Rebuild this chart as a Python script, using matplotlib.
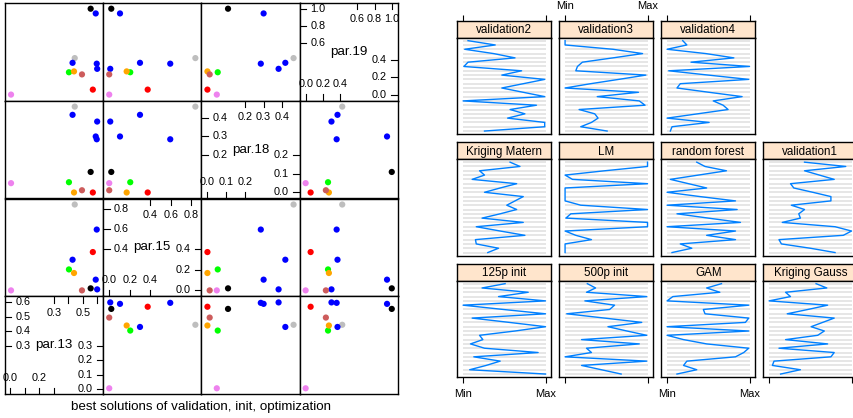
import numpy as np
import matplotlib.pyplot as plt

plt.rcParams['font.family'] = ['Liberation Sans', 'DejaVu Sans']

# --- DATA: scatterplot matrix (one entry per best solution) ---
VAR_NAMES = ['par.13', 'par.15', 'par.18', 'par.19']
par13 = [0.555, 0.590, 0.445, 0.430, 0.597, 0.600, 0.405, 0.440, 0.495, 0.570, 0.005]
par15 = [0.020, 0.105, 0.840, 0.300, 0.595, 0.010, 0.205, 0.170, 0.000, 0.375, 0.000]
par18 = [0.110, 0.300, 0.460, 0.416, 0.285, 0.380, 0.055, 0.000, 0.012, 0.000, 0.050]
par19 = [1.000, 0.945, 0.425, 0.370, 0.360, 0.300, 0.260, 0.270, 0.235, 0.058, 0.000]
point_cols = ['black', 'blue', '#bebebe', 'blue', 'blue', 'blue', '#00ff00',
              '#ffa500', '#cd5c5c', 'red', '#ee82ee']

par13_ticks = [0.0, 0.1, 0.2, 0.3, 0.4, 0.5, 0.6]
par15_ticks = [0.0, 0.2, 0.4, 0.6, 0.8]
par18_ticks = [0.0, 0.1, 0.2, 0.3, 0.4]
par19_ticks = [0.0, 0.2, 0.4, 0.6, 0.8, 1.0]

# --- DATA: parallel plot, scaled values (Min=0, Max=1), listed top -> bottom ---
panel_names = ['125p init', '500p init', 'GAM', 'Kriging Gauss',
               'Kriging Matern', 'LM', 'random forest', 'validation1',
               'validation2', 'validation3', 'validation4']
p_125p = [0.51, 0.23, 0.79, 0.43, 1.00, 0.00, 0.49, 1.00, 0.11, 0.56, 1.00,
          0.63, 0.20, 0.24, 0.09, 0.26, 0.91, 0.13, 0.45, 0.28, 0.08, 1.00]
p_500p = [0.27, 0.37, 0.26, 0.99, 0.24, 0.60, 0.54, 0.02, 0.48, 0.93, 0.52,
          0.75, 0.99, 0.20, 0.90, 0.26, 0.32, 0.00, 0.99, 0.20, 0.44, 0.68]
p_gam = [0.66, 0.48, 0.64, 0.07, 0.00, 0.99, 0.44, 0.46, 0.99, 0.95, 0.00,
         0.99, 0.00, 0.20, 0.48, 0.99, 0.93, 0.83, 0.24, 0.20, 0.36, 0.12]
p_kgauss = [0.57, 0.70, 0.20, 0.26, 0.00, 0.71, 0.47, 0.22, 0.79, 0.65, 0.51,
            0.67, 0.59, 0.20, 0.71, 0.12, 0.79, 0.75, 0.06, 0.04, 0.38, 0.14]
p_kmatern = [0.57, 0.69, 0.20, 0.26, 0.11, 0.65, 0.45, 0.26, 0.73, 0.63, 0.53,
             0.65, 0.45, 0.23, 0.73, 0.16, 0.45, 0.75, 0.15, 0.16, 0.43, 0.30]
p_lm = [1.00, 1.00, 0.48, 0.00, 0.09, 1.00, 0.00, 0.00, 0.00, 0.00, 0.19,
        1.00, 0.07, 0.01, 1.00, 1.00, 0.00, 0.13, 0.32, 0.00, 0.00, 0.00]
p_rf = [0.36, 0.46, 0.72, 0.38, 0.04, 0.26, 0.48, 0.00, 0.40, 0.83, 0.00,
        0.85, 0.12, 0.50, 0.89, 0.00, 0.83, 0.48, 0.83, 0.16, 0.30, 0.06]
p_val1 = [0.43, 0.93, 0.43, 0.61, 0.79, 0.26, 0.30, 0.53, 0.75, 0.75, 0.27,
          0.43, 0.36, 0.38, 0.16, 0.80, 1.00, 0.90, 0.12, 0.15, 0.50, 0.80]
p_val2 = [0.06, 0.39, 0.02, 0.37, 0.63, 0.06, 0.01, 0.71, 0.47, 0.99, 0.73,
          0.47, 0.73, 0.99, 0.00, 0.89, 0.57, 0.75, 0.54, 0.99, 0.99, 0.26]
p_val3 = [0.00, 0.00, 0.58, 0.94, 0.58, 0.21, 0.15, 0.13, 0.98, 0.65, 0.31,
          0.00, 0.89, 0.39, 0.90, 0.97, 0.17, 0.36, 0.40, 0.32, 0.19, 0.51]
p_val4 = [0.19, 0.24, 0.00, 0.47, 0.81, 0.29, 1.00, 0.02, 0.50, 0.99, 0.16,
          0.12, 0.51, 0.91, 0.56, 0.68, 0.74, 0.37, 0.00, 0.51, 0.06, 0.04]
profiles = [p_125p, p_500p, p_gam, p_kgauss, p_kmatern, p_lm, p_rf, p_val1,
            p_val2, p_val3, p_val4]

# --- LAYOUT (pixels) ---
W, H = 854, 418
SP_LEFT, SP_TOP, SP_CELL_W, SP_CELL_H = 5, 2.7, 98.2, 97.9
PP_LEFT, PP_DX, PP_W = 457.3, 102, 94
PP_TOP, PP_DY, STRIP_H, PANEL_H = 21, 121.5, 16.5, 96.7
LINE_BLUE = '#0080ff'
STRIP_BG = '#ffe5cc'
TICK_FS = 7.8


def box(left, top, width, height):
    return [left / W, 1 - (top + height) / H, width / W, height / H]


def padded(vals, prop=0.07):
    lo, hi = min(vals), max(vals)
    d = hi - lo
    return lo - prop * d, hi + prop * d


def frame(ax, lw=1.0):
    for s in ax.spines.values():
        s.set_linewidth(lw)
        s.set_color('black')


def diag_panel(ax, name, ticks, lim):
    ax.set_xlim(lim)
    ax.set_ylim(lim)
    ax.set_xticks([])
    ax.set_yticks([])
    ax.text(0.5, 0.5, name, transform=ax.transAxes, ha='center', va='center', fontsize=9.6)
    ticks = [t for t in ticks if lim[0] <= t <= lim[1]]
    n = len(ticks)
    h = (n + 1) // 2
    low, high = ticks[:h], ticks[n - h:]
    tl = 0.065
    px_per_unit = SP_CELL_W / (lim[1] - lim[0])
    xt, yt = ax.get_xaxis_transform(), ax.get_yaxis_transform()
    for group, y0, y1, ly in [(low, 0, tl, 0.17), (high, 1, 1 - tl, 0.83)]:
        last = None
        for t in group:
            ax.plot([t, t], [y0, y1], transform=xt, color='black', lw=0.8)
            if last is None or (t - last) * px_per_unit >= 16:
                ax.text(t, ly, f'{t:.1f}', transform=xt, ha='center', va='center', fontsize=TICK_FS)
                last = t
    for group, x0, x1, lx, ha in [(high, 0, tl, 0.11, 'left'), (low, 1, 1 - tl, 0.89, 'right')]:
        for t in group:
            ax.plot([x0, x1], [t, t], transform=yt, color='black', lw=0.8)
            ax.text(lx, t, f'{t:.1f}', transform=yt, ha=ha, va='center', fontsize=TICK_FS)


fig = plt.figure(figsize=(W / 100, H / 100), dpi=100)

# --- SCATTERPLOT MATRIX ---
var_data = [par13, par15, par18, par19]
var_ticks = [par13_ticks, par15_ticks, par18_ticks, par19_ticks]
var_lims = [padded(v) for v in var_data]

for row in range(4):
    yi = 3 - row
    for col in range(4):
        ax = fig.add_axes(box(SP_LEFT + col * SP_CELL_W, SP_TOP + row * SP_CELL_H,
                              SP_CELL_W, SP_CELL_H))
        frame(ax)
        if col == yi:
            diag_panel(ax, VAR_NAMES[col], var_ticks[col], var_lims[col])
            continue
        ax.scatter(var_data[col], var_data[yi], c=point_cols, s=20, linewidths=0)
        ax.set_xlim(var_lims[col])
        ax.set_ylim(var_lims[yi])
        ax.set_xticks([])
        ax.set_yticks([])

fig.text((SP_LEFT + 2 * SP_CELL_W) / W, 1 - 407 / H,
         'best solutions of validation, init, optimization',
         ha='center', va='center', fontsize=9.6)

# --- PARALLEL PLOT ---
n_var = len(p_125p)
ypos = np.arange(n_var, 0, -1)
ypad = 0.035 * (n_var - 1)
xlim = (-0.07, 1.07)

for i, (name, vals) in enumerate(zip(panel_names, profiles)):
    row_from_bottom, col = divmod(i, 4)
    row = 2 - row_from_bottom
    left = PP_LEFT + col * PP_DX
    top = PP_TOP + row * PP_DY

    sax = fig.add_axes(box(left, top, PP_W, STRIP_H))
    sax.set_facecolor(STRIP_BG)
    sax.set_xlim(xlim)
    sax.set_yticks([])
    sax.text(0.5, 0.45, name, transform=sax.transAxes, ha='center', va='center', fontsize=8.4)
    frame(sax)

    ax = fig.add_axes(box(left, top + STRIP_H, PP_W, PANEL_H))
    ax.hlines(ypos, 0, 1, color='#e2e2e2', lw=1.2)
    ax.plot(vals, ypos, color=LINE_BLUE, lw=1.0)
    ax.set_xlim(xlim)
    ax.set_ylim(1 - ypad, n_var + ypad)
    ax.set_yticks([])
    frame(ax)

    if row == 0:
        sax.xaxis.tick_top()
        sax.set_xticks([0, 1])
        sax.set_xticklabels(['Min', 'Max'] if col == 1 else ['', ''])
        sax.tick_params(axis='x', direction='out', length=4.3, width=0.8, labelsize=8.0, pad=3)
    else:
        sax.set_xticks([])

    if row == 2:
        ax.set_xticks([0, 1])
        ax.set_xticklabels(['Min', 'Max'] if col % 2 == 0 else ['', ''])
        ax.tick_params(axis='x', direction='out', length=4.3, width=0.8, labelsize=8.0, pad=4)
    else:
        ax.set_xticks([])

fig.savefig('out.png', dpi=100)
